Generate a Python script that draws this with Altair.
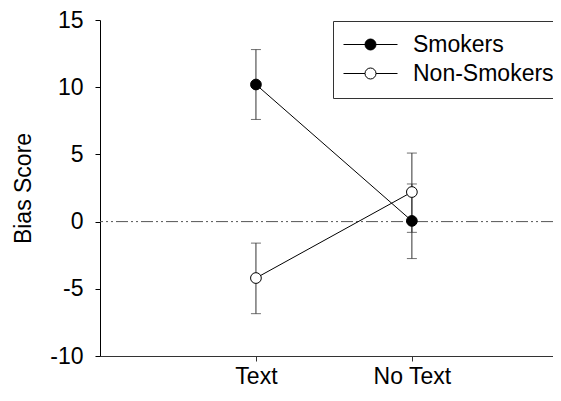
import altair as alt
import pandas as pd

conditions = ["Text", "No Text"]
cond_pos = [1, 2]
groups = ["Smokers", "Non-Smokers"]
smokers_mean = [10.2, 0.05]
smokers_lo = [7.6, -2.75]
smokers_hi = [12.8, 2.8]
nonsmokers_mean = [-4.2, 2.2]
nonsmokers_lo = [-6.85, -0.8]
nonsmokers_hi = [-1.6, 5.1]
y_ticks = [-10, -5, 0, 5, 10, 15]
zero_line = [0]

rows = []
for g, m, lo, hi in [("Smokers", smokers_mean, smokers_lo, smokers_hi),
                     ("Non-Smokers", nonsmokers_mean, nonsmokers_lo, nonsmokers_hi)]:
    for i in range(len(conditions)):
        rows.append(dict(group=g, condition=conditions[i], pos=cond_pos[i],
                         mean=m[i], lo=lo[i], hi=hi[i]))
df = pd.DataFrame(rows)

FONT = "Liberation Sans"
FS = 23
W, H = 453, 336

label_expr = " : ".join(
    [f"datum.value == {p} ? '{c}'" for p, c in zip(cond_pos, conditions)]) + " : ''"

xscale = alt.Scale(domain=[0, 2.905], nice=False, zero=False)
yscale = alt.Scale(domain=[-10, 15], nice=False, zero=False)

xaxis = alt.Axis(values=cond_pos, labelExpr=label_expr, tickSize=5, labelPadding=4,
                 title=None, grid=False, domainColor="#333", tickColor="#333", labelAngle=0)
yaxis = alt.Axis(values=y_ticks, labelExpr="'' + datum.value", tickSize=5, labelPadding=12,
                 title="Bias Score", titleX=-77, titleY=H / 2, titleAngle=270,
                 titleAlign="center", titleBaseline="middle",
                 grid=False, domainColor="black", tickColor="black")

X = alt.X("pos:Q", scale=xscale, axis=xaxis)

base = alt.Chart(df)

zero = alt.Chart(pd.DataFrame({"z": zero_line})).mark_rule(
    color="#555", strokeWidth=1, strokeDash=[12, 3, 2, 3, 2, 3]
).encode(y=alt.Y("z:Q", scale=yscale, axis=yaxis))

err = base.mark_rule(color="#333", strokeWidth=1).encode(
    x=X, y=alt.Y("lo:Q", scale=yscale, axis=yaxis), y2="hi:Q")

cap_lo = base.mark_tick(orient="horizontal", size=10, thickness=1, color="#333").encode(
    x=X, y=alt.Y("lo:Q", scale=yscale, axis=yaxis))
cap_hi = base.mark_tick(orient="horizontal", size=10, thickness=1, color="#333").encode(
    x=X, y=alt.Y("hi:Q", scale=yscale, axis=yaxis))

line = base.mark_line(color="black", strokeWidth=1).encode(
    x=X, y=alt.Y("mean:Q", scale=yscale, axis=yaxis), detail="group:N")

# legend symbol: horizontal line with a circle in the middle (units of 10px)
sym_path = ("M-2.7,0H-0.55M0.55,0H2.7M0.55,0A0.55,0.55,0,1,1,-0.55,0"
            "A0.55,0.55,0,1,1,0.55,0")

points = base.mark_point(filled=True, shape="circle", size=115, stroke="black",
                         strokeWidth=1, opacity=1).encode(
    x=X, y=alt.Y("mean:Q", scale=yscale, axis=yaxis),
    fill=alt.Fill("group:N", scale=alt.Scale(domain=groups, range=["black", "white"]),
                  legend=alt.Legend(orient="none", legendX=233, legendY=1, title=None,
                                    strokeColor="#333", fillColor="white", padding=12,
                                    symbolType=sym_path, symbolSize=400, symbolOffset=14,
                                    symbolStrokeColor="black", symbolStrokeWidth=1,
                                    labelOffset=31, rowPadding=5))
)

chart = alt.layer(zero, err, cap_lo, cap_hi, line, points).properties(
    width=W, height=H, autosize="none",
    padding={"left": 92, "top": 12, "right": 0, "bottom": 32}
).configure_view(stroke=None).configure_axis(
    labelFont=FONT, labelFontSize=FS, labelColor="black",
    titleFont=FONT, titleFontSize=FS, titleFontWeight="normal", titleColor="black"
).configure_legend(
    labelFont=FONT, labelFontSize=FS, labelColor="black"
)

chart.save("out.html", embed_options={"renderer": "svg", "actions": False})
